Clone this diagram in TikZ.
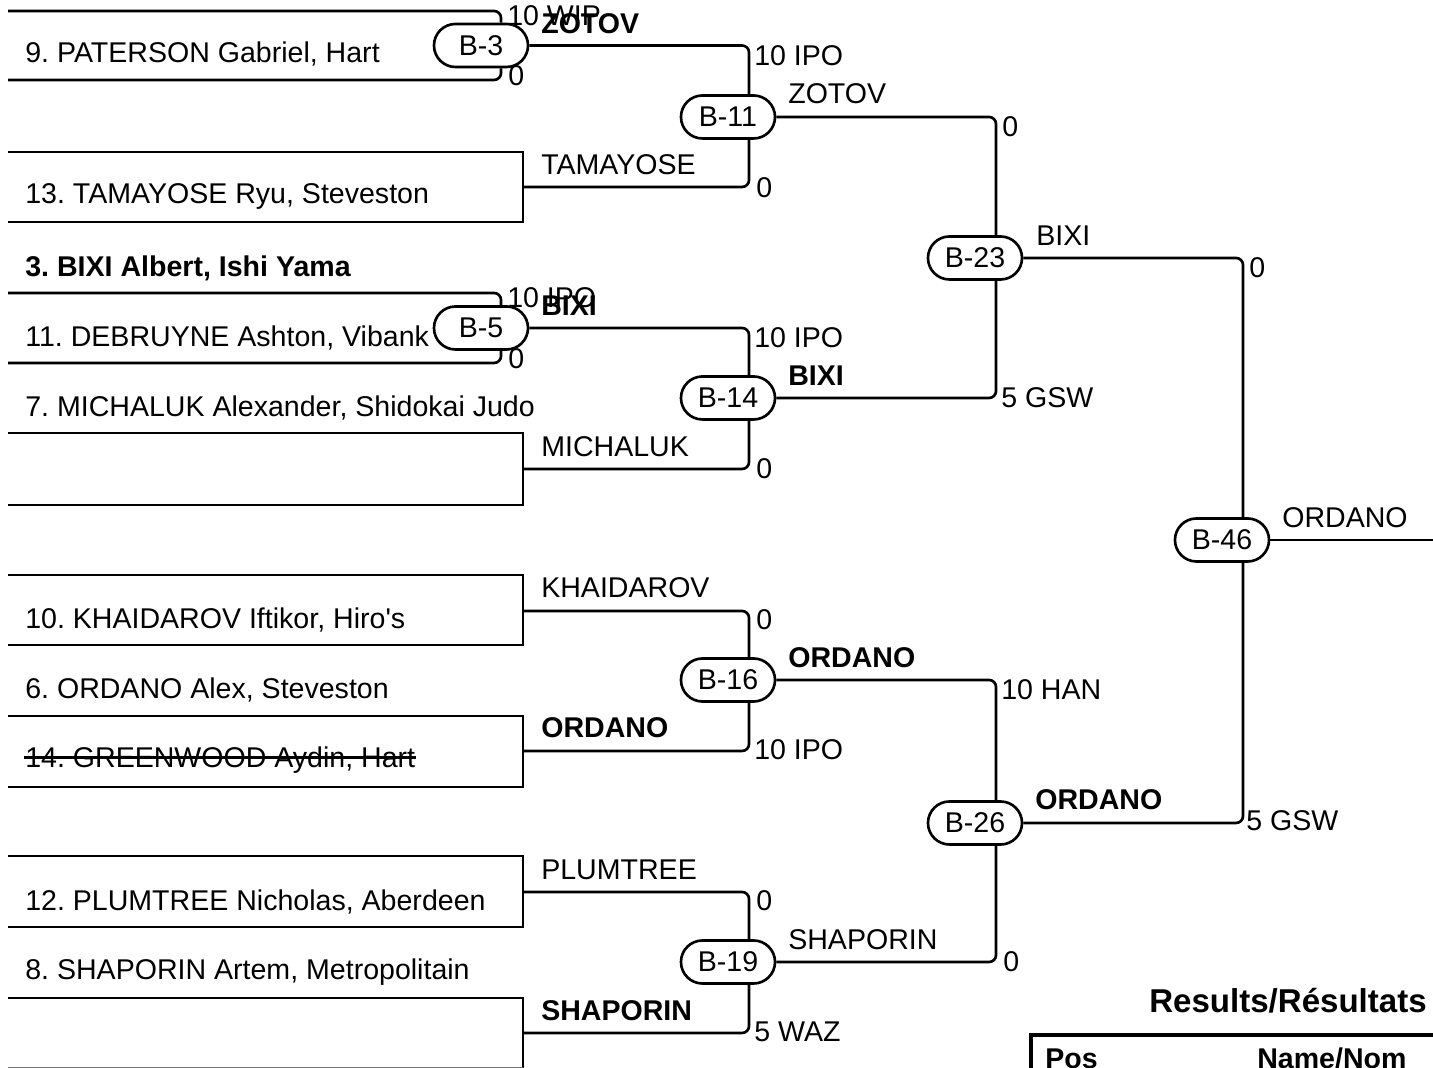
\documentclass[tikz,border=0pt]{standalone}
\usepackage{fontspec}
\setmainfont{Liberation Sans}[Ligatures=TeXOff]
\frenchspacing
\begin{document}
\begin{tikzpicture}[x=0.01cm,y=-0.01cm, line width=0.75pt,
  every node/.style={inner sep=0pt, font=\fontsize{8.12}{9.7}\selectfont},
  txt/.style={anchor=base west},
  bld/.style={anchor=base west, font=\fontsize{8.12}{9.7}\selectfont\bfseries},
  match/.style={draw, rounded corners=0.215cm, minimum width=0.94cm, minimum height=0.43cm, fill=white},
  conn/.style={rounded corners=0.07cm},
  up/.style={xshift=0.21cm}]
\useasboundingbox (0,0) rectangle (1433,1068);

% ---------- match nodes ----------
\node[match] (b3)  at (481,45.5) {B-3};
\node[match] (b5)  at (481,328)  {B-5};
\node[match] (b11) at (728,117)  {B-11};
\node[match] (b14) at (728,398)  {B-14};
\node[match] (b16) at (728,680)  {B-16};
\node[match] (b19) at (728,962)  {B-19};
\node[match] (b23) at (975,258)  {B-23};
\node[match] (b26) at (975,823)  {B-26};
\node[match] (b46) at (1222,540) {B-46};

% ---------- coordinates ----------
\coordinate (s9)  at (8,11);
\coordinate (s13) at (8,80);
\coordinate (s3)  at (8,293);
\coordinate (s11) at (8,363);
\coordinate (tA) at (523,187);
\coordinate (tB) at (523,469);
\coordinate (tC) at (523,611);
\coordinate (tD) at (523,751);
\coordinate (tE) at (523,892);
\coordinate (tF) at (523,1033);
\coordinate (fin) at (1433,540);

% ---------- first round lines ----------
\draw[conn] (s9)  -| ([xshift=0.2cm]b3.north);
\draw[conn] (s13) -| ([xshift=0.2cm]b3.south);
\draw[conn] (s3)  -| ([xshift=0.2cm]b5.north);
\draw[conn] (s11) -| ([xshift=0.2cm]b5.south);

% ---------- bye boxes ----------
\draw (8,152) -- (523,152) -- (523,222) -- (8,222);
\draw (8,433) -- (523,433) -- (523,505) -- (8,505);
\draw (8,575) -- (523,575) -- (523,645) -- (8,645);
\draw (8,716) -- (523,716) -- (523,787) -- (8,787);
\draw (8,856) -- (523,856) -- (523,927) -- (8,927);
\draw (8,998) -- (523,998) -- (523,1070);
\draw[black!55] (8,1068) -- (523,1068);

% ---------- connectors ----------
\draw[conn] (b3.east) -| ([up]b11.north);
\draw[conn] (tA) -| ([up]b11.south);
\draw[conn] (b5.east) -| ([up]b14.north);
\draw[conn] (tB) -| ([up]b14.south);
\draw[conn] (tC) -| ([up]b16.north);
\draw[conn] (tD) -| ([up]b16.south);
\draw[conn] (tE) -| ([up]b19.north);
\draw[conn] (tF) -| ([up]b19.south);
\draw[conn] (b11.east) -| ([up]b23.north);
\draw[conn] (b14.east) -| ([up]b23.south);
\draw[conn] (b16.east) -| ([up]b26.north);
\draw[conn] (b19.east) -| ([up]b26.south);
\draw[conn] (b23.east) -| ([up]b46.north);
\draw[conn] (b26.east) -| ([up]b46.south);
\draw (b46.east) -- (fin);

% ---------- competitor names ----------
\node[txt] (n9)  at (24,63)  {9. PATERSON Gabriel, Hart};
\node[txt] (n13) at (24,204) {13. TAMAYOSE Ryu, Steveston};
\node[bld] (n3)  at (24,277) {3. BIXI Albert, Ishi Yama};
\node[txt] (n11) at (24,347) {11. DEBRUYNE Ashton, Vibank};
\node[txt] (n7)  at (24,417) {7. MICHALUK Alexander, Shidokai Judo};
\node[txt] (n10) at (24,629) {10. KHAIDAROV Iftikor, Hiro's};
\node[txt] (n6)  at (24,699) {6. ORDANO Alex, Steveston};
\node[txt] (n14) at (24,768) {14. GREENWOOD Aydin, Hart};
\draw[line width=0.6pt] ([yshift=0.105cm]n14.base west) -- ([yshift=0.105cm]n14.base east);
\node[txt] (n12) at (24,911) {12. PLUMTREE Nicholas, Aberdeen};
\node[txt] (n8)  at (24,980) {8. SHAPORIN Artem, Metropolitain};

% ---------- winners on lines ----------
\node[bld] (w3)  at (540,34)  {ZOTOV};
\node[bld] (w5)  at (540,316) {BIXI};
\node[txt] (wA)  at (540,175) {TAMAYOSE};
\node[txt] (wB)  at (540,457) {MICHALUK};
\node[txt] (wC)  at (540,598) {KHAIDAROV};
\node[bld] (wD)  at (540,738) {ORDANO};
\node[txt] (wE)  at (540,880) {PLUMTREE};
\node[bld] (wF)  at (540,1021) {SHAPORIN};
\node[txt] (w11) at (787,104) {ZOTOV};
\node[bld] (w14) at (787,386) {BIXI};
\node[bld] (w16) at (787,668) {ORDANO};
\node[txt] (w19) at (787,950) {SHAPORIN};
\node[txt] (w23) at (1035,246) {BIXI};
\node[bld] (w26) at (1034,810) {ORDANO};
\node[txt] (w46) at (1281,528) {ORDANO};

% ---------- scores ----------
\node[txt] (k1)  at (506,26)  {10 WIP};
\node[txt] (k2)  at (507,86)  {0};
\node[txt] (k3)  at (506,308) {10 IPO};
\node[txt] (k4)  at (507,369) {0};
\node[txt] (k5)  at (753,66)  {10 IPO};
\node[txt] (k6)  at (755,198) {0};
\node[txt] (k7)  at (753,348) {10 IPO};
\node[txt] (k8)  at (755,479) {0};
\node[txt] (k9)  at (755,630) {0};
\node[txt] (k10) at (753,760) {10 IPO};
\node[txt] (k11) at (755,911) {0};
\node[txt] (k12) at (753,1042) {5 WAZ};
\node[txt] (k13) at (1001,137) {0};
\node[txt] (k14) at (1000,408) {5 GSW};
\node[txt] (k15) at (1000,700) {10 HAN};
\node[txt] (k16) at (1002,972) {0};
\node[txt] (k17) at (1248,278) {0};
\node[txt] (k18) at (1245,831) {5 GSW};

% ---------- results ----------
\node[anchor=base east, font=\fontsize{9.4}{11}\selectfont\bfseries] (res) at (1428,1013) {Results/Résultats};
\draw[line width=1.2pt] (1433,1035) -- (1031,1035) -- (1031,1072);
\node[bld] (pos) at (1044,1069) {Pos};
\node[bld] (nom) at (1256,1069) {Name/Nom};
\end{tikzpicture}
\end{document}
